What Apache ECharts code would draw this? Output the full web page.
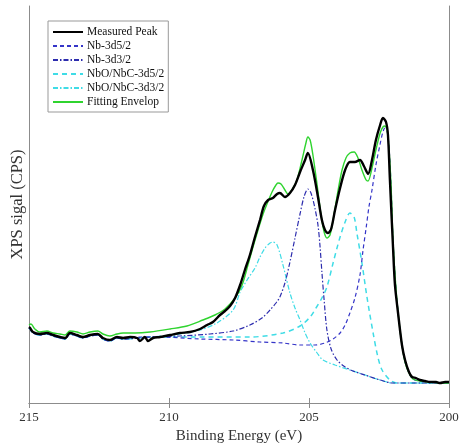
<!DOCTYPE html>
<html>
<head>
<meta charset="utf-8">
<script src="https://cdn.jsdelivr.net/npm/echarts@6/dist/echarts.min.js"></script>
<style>
  html, body { margin: 0; padding: 0; background: #fff; }
  #chart { width: 459px; height: 443px; }
</style>
</head>
<body>
<div id="chart"></div>
<script>
// Nb 3d XPS spectrum: binding energy (eV) vs. counts (CPS, arbitrary scale)

const energyTicks = [200, 205, 210, 215];

// Noisy background on the high-energy side, shared by all fitted components
const backgroundLeft = [
  [215.00, 750], [214.96, 740], [214.86, 700], [214.61, 680], [214.36, 690],
  [214.14, 670], [213.89, 650], [213.71, 640], [213.54, 690], [213.29, 670],
  [213.07, 650], [212.82, 670], [212.54, 680], [212.36, 640], [212.11, 620],
  [211.86, 650], [211.64, 640]
];

const measuredPeak = [
  [215.00, 760], [214.96, 750], [214.86, 710], [214.61, 690], [214.36, 700],
  [214.14, 680], [213.89, 660], [213.71, 650], [213.54, 700], [213.29, 680],
  [213.07, 660], [212.82, 680], [212.54, 690], [212.36, 650], [212.11, 630],
  [211.86, 660], [211.64, 650], [211.39, 660], [211.14, 650], [211.04, 620],
  [210.86, 660], [210.75, 620], [210.57, 650], [210.32, 660], [209.96, 680],
  [209.61, 700], [209.25, 710], [208.89, 740], [208.64, 780], [208.43, 810],
  [208.18, 880], [208.00, 920], [207.82, 970], [207.64, 1050], [207.46, 1180],
  [207.29, 1330], [207.11, 1480], [206.93, 1660], [206.75, 1830], [206.61, 1970],
  [206.46, 2030], [206.29, 2050], [206.14, 2090], [206.04, 2100], [205.86, 2060],
  [205.68, 2100], [205.50, 2180], [205.32, 2310], [205.14, 2430], [205.04, 2500],
  [204.86, 2330], [204.68, 2060], [204.54, 1830], [204.43, 1730], [204.32, 1700],
  [204.21, 1740], [204.07, 1930], [203.89, 2150], [203.71, 2330], [203.54, 2410],
  [203.36, 2410], [203.18, 2430], [203.04, 2370], [202.89, 2290], [202.75, 2430],
  [202.61, 2630], [202.46, 2780], [202.36, 2850], [202.25, 2810], [202.18, 2680],
  [202.11, 2230], [202.00, 1560], [201.93, 1180], [201.82, 900], [201.68, 580],
  [201.57, 430], [201.43, 310], [201.32, 260], [201.18, 250], [201.04, 230],
  [200.86, 220], [200.68, 210], [200.46, 210], [200.32, 200], [200.14, 210],
  [200.00, 210]
];

const nb3d52 = [
  [211.14, 660], [210.32, 660], [208.89, 640], [207.71, 630], [206.75, 610],
  [205.93, 600], [205.32, 580], [204.79, 580], [204.43, 600], [204.14, 640],
  [203.89, 700], [203.71, 780], [203.54, 900], [203.36, 1050], [203.18, 1280],
  [203.07, 1530], [202.96, 1750], [202.86, 1960], [202.75, 2130], [202.61, 2380],
  [202.46, 2590], [202.36, 2710], [202.29, 2750], [202.21, 2720], [202.14, 2550],
  [202.07, 2180], [202.00, 1630], [201.89, 1130], [201.79, 830], [201.68, 580],
  [201.57, 410], [201.43, 300], [201.29, 240], [201.04, 220], [200.68, 210],
  [200.32, 200], [200.00, 200]
];

const nb3d32 = [
  [210.68, 660], [209.61, 670], [208.54, 690], [207.71, 720], [207.11, 780],
  [206.68, 850], [206.39, 930], [206.18, 1000], [206.04, 1060], [205.86, 1200],
  [205.68, 1410], [205.50, 1650], [205.32, 1890], [205.18, 2060], [205.04, 2140],
  [204.93, 2100], [204.79, 1950], [204.68, 1780], [204.61, 1580], [204.54, 1310],
  [204.46, 1030], [204.36, 730], [204.21, 540], [204.00, 430], [203.71, 360],
  [203.43, 320], [203.00, 280], [202.46, 230], [202.00, 200], [201.04, 200],
  [200.00, 200]
];

const nboNbc3d52 = [
  [210.68, 660], [208.89, 660], [207.11, 660], [205.93, 700], [205.32, 770],
  [204.96, 860], [204.75, 950], [204.54, 1050], [204.36, 1160], [204.14, 1400],
  [204.00, 1550], [203.89, 1660], [203.71, 1810], [203.54, 1900], [203.39, 1860],
  [203.29, 1700], [203.11, 1400], [202.93, 1060], [202.71, 700], [202.54, 460],
  [202.39, 330], [202.11, 230], [201.86, 200], [201.04, 200], [200.00, 200]
];

const nboNbc3d32 = [
  [210.68, 660], [209.61, 690], [208.89, 730], [208.29, 800], [207.71, 930],
  [207.46, 1110], [207.21, 1230], [206.93, 1350], [206.75, 1460], [206.57, 1550],
  [206.39, 1600], [206.29, 1610], [206.14, 1580], [205.93, 1380], [205.68, 1100],
  [205.50, 950], [205.32, 830], [205.14, 700], [204.96, 600], [204.71, 500],
  [204.50, 430], [204.07, 380], [203.54, 330], [203.00, 280], [202.46, 230],
  [202.00, 200], [201.04, 200], [200.00, 200]
];

const fittingEnvelop = [
  [215.00, 780], [214.93, 790], [214.79, 740], [214.61, 710], [214.36, 720],
  [214.14, 700], [213.89, 690], [213.71, 680], [213.54, 720], [213.29, 710],
  [213.07, 690], [212.82, 710], [212.54, 720], [212.36, 690], [212.11, 670],
  [211.86, 690], [211.64, 700], [211.21, 700], [210.68, 710], [209.96, 740],
  [209.36, 770], [208.79, 830], [208.36, 880], [208.00, 940], [207.64, 1050],
  [207.39, 1180], [207.18, 1380], [207.00, 1560], [206.82, 1730], [206.64, 1890],
  [206.50, 1990], [206.32, 2110], [206.18, 2180], [206.11, 2200], [206.00, 2190],
  [205.86, 2130], [205.75, 2090], [205.61, 2130], [205.43, 2230], [205.25, 2430],
  [205.11, 2600], [205.04, 2660], [204.96, 2630], [204.86, 2480], [204.71, 2180],
  [204.57, 1880], [204.46, 1710], [204.36, 1650], [204.25, 1680], [204.11, 1880],
  [203.96, 2130], [203.82, 2330], [203.68, 2450], [203.54, 2500], [203.39, 2510],
  [203.25, 2450], [203.11, 2330], [202.96, 2230], [202.89, 2220], [202.75, 2350],
  [202.61, 2530], [202.46, 2700], [202.36, 2760], [202.29, 2770], [202.21, 2730],
  [202.14, 2530], [202.07, 2180], [202.00, 1630], [201.89, 1130], [201.79, 830],
  [201.68, 580], [201.57, 410], [201.43, 300], [201.29, 240], [201.04, 220],
  [200.68, 210], [200.32, 200], [200.00, 200]
];

const seriesNames = [
  'Measured Peak', 'Nb-3d5/2', 'Nb-3d3/2',
  'NbO/NbC-3d5/2', 'NbO/NbC-3d3/2', 'Fitting Envelop'
];

const serif = 'Liberation Serif, Times New Roman, serif';
const axisGray = '#8c8c8c';

function lineSeries(name, data, color, width, type, z) {
  return {
    name: name,
    type: 'line',
    data: data,
    symbol: 'none',
    showSymbol: false,
    smooth: 0.3,
    z: z,
    lineStyle: { color: color, width: width, type: type },
    itemStyle: { color: color },
    emphasis: { disabled: true },
    animation: false
  };
}

const chart = echarts.init(document.getElementById('chart'), null, { renderer: 'canvas' });

chart.setOption({
  backgroundColor: '#fff',
  animation: false,
  grid: { left: 29, right: 10, top: 6, bottom: 40, show: false, containLabel: false, outerBoundsMode: 'none' },
  legend: {
    data: seriesNames,
    orient: 'vertical',
    left: 48,
    top: 21,
    itemWidth: 30,
    itemHeight: 11,
    itemGap: 2,
    padding: [5, 4, 4, 4],
    borderColor: '#999',
    borderWidth: 1,
    borderRadius: 0,
    backgroundColor: '#fff',
    // legend keys show only the line sample
    itemStyle: { color: 'transparent', borderColor: 'transparent', borderWidth: 0, opacity: 0 },
    textStyle: { fontFamily: serif, fontSize: 11.5, color: '#111', padding: [0, 0, 0, -1] },
    selectedMode: false
  },
  xAxis: [
    {
      type: 'value',
      min: 200,
      max: 215,
      interval: 5,
      inverse: true,
      position: 'bottom',
      name: 'Binding Energy (eV)',
      nameLocation: 'middle',
      nameGap: 20,
      nameTextStyle: { fontFamily: serif, fontSize: 15, color: '#333' },
      axisLine: { show: true, lineStyle: { color: axisGray, width: 1 } },
      axisTick: { show: true, inside: true, length: 5, lineStyle: { color: axisGray } },
      axisLabel: {
        fontFamily: serif, fontSize: 13, color: '#333', margin: 8,
        formatter: function (v) { return energyTicks.indexOf(v) >= 0 ? String(v) : ''; }
      },
      splitLine: { show: false }
    },
    {
      type: 'value',
      min: 200,
      max: 215,
      interval: 5,
      inverse: true,
      position: 'top',
      axisLine: { show: true, lineStyle: { color: axisGray, width: 1 } },
      axisTick: { show: true, inside: true, length: 5, lineStyle: { color: axisGray } },
      axisLabel: { show: false },
      splitLine: { show: false }
    }
  ],
  yAxis: [
    {
      type: 'value',
      min: 0,
      max: 3970,
      position: 'left',
      name: 'XPS sigal (CPS)',
      nameLocation: 'middle',
      nameGap: 3,
      nameTextStyle: { fontFamily: serif, fontSize: 16.5, color: '#333' },
      axisLine: { show: true, lineStyle: { color: axisGray, width: 1 } },
      axisTick: { show: false },
      axisLabel: { show: false },
      splitLine: { show: false }
    },
    {
      type: 'value',
      min: 0,
      max: 3970,
      position: 'right',
      axisLine: { show: true, lineStyle: { color: axisGray, width: 1 } },
      axisTick: { show: false },
      axisLabel: { show: false },
      splitLine: { show: false }
    }
  ],
  series: [
    lineSeries(seriesNames[0], measuredPeak, '#000000', 2.4, 'solid', 6),
    lineSeries(seriesNames[1], backgroundLeft.concat(nb3d52), '#3535c8', 1.2, [4, 3], 3),
    lineSeries(seriesNames[2], backgroundLeft.concat(nb3d32), '#2c2cae', 1.2, [5, 2, 1.5, 2], 3),
    lineSeries(seriesNames[3], backgroundLeft.concat(nboNbc3d52), '#3fdce6', 1.5, [5, 4], 2),
    lineSeries(seriesNames[4], backgroundLeft.concat(nboNbc3d32), '#3fdce6', 1.2, [5, 2, 1.5, 2], 2),
    lineSeries(seriesNames[5], fittingEnvelop, '#2fd42f', 1.4, 'solid', 5)
  ]
});
</script>
</body>
</html>
